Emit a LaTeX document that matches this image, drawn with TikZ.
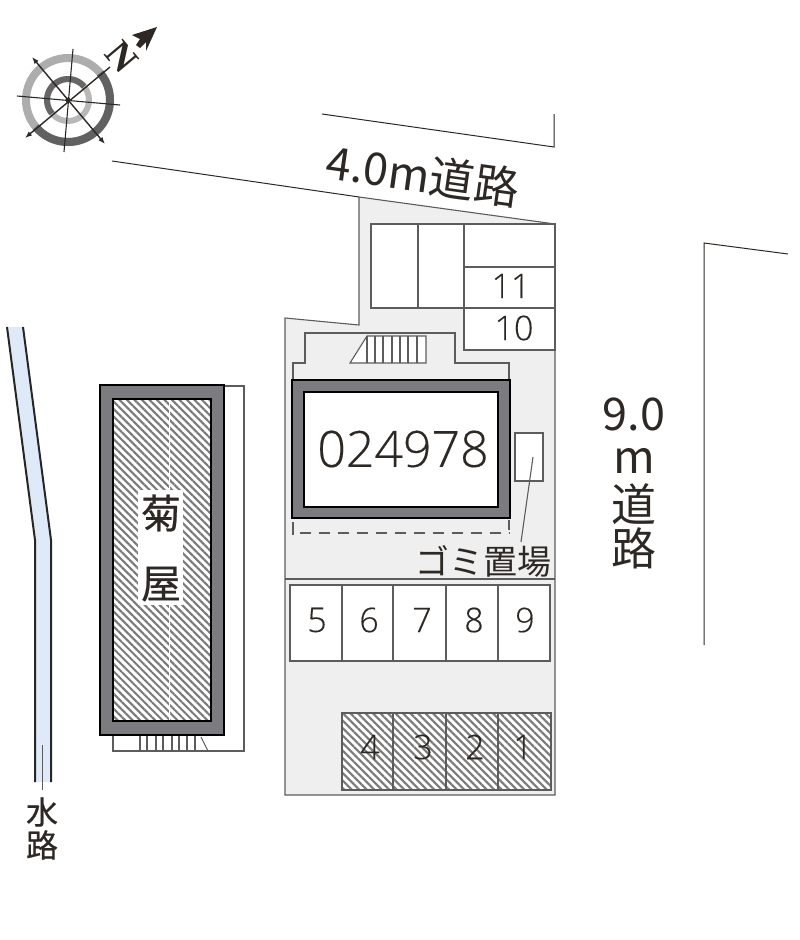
\documentclass[tikz,border=0pt]{standalone}
\usepackage{fontspec}
\setmainfont[FakeBold=0.3]{Open Sans Light}
\newfontfamily\cjk{Noto Sans CJK JP}
\newfontfamily\cjkheavy[FakeBold=0.6]{Noto Sans CJK JP}
\newfontfamily\northfont{Liberation Serif}
\usetikzlibrary{patterns.meta,arrows.meta}
\definecolor{lotgray}{HTML}{EFEFEF}
\definecolor{linegray}{HTML}{5C5C5C}
\definecolor{bandgray}{HTML}{7B7B80}
\definecolor{inkdark}{HTML}{2E2824}
\definecolor{waterblue}{HTML}{DFEAF9}
\tikzset{
    plan/.style={draw=linegray, line width=1.1pt},
    thinline/.style={draw=inkdark, line width=1pt},
    hatched/.style={pattern={Lines[angle=-45,distance=5.3pt,line width=2.1pt]}, pattern color=black!52},
    wall/.style={draw=black, fill=bandgray, line width=2.9pt},
    slotnum/.style={text=inkdark, font=\fontsize{34}{34}\selectfont, inner sep=0pt},
    roadtext/.style={text=inkdark, font=\cjk\fontsize{45}{45}\selectfont, inner sep=0pt},
    heavytext/.style={text=inkdark, inner sep=0pt}
}
\begin{document}
\begin{tikzpicture}[x=1pt, y=-1pt]
    \useasboundingbox (0,0) rectangle (800,940);
    % compass
    \coordinate (hub) at (68,100);
    \draw[line width=8pt, black!32] (hub) circle (42);
    \draw[line width=8pt, black!62] (hub) ++(140:42) arc[start angle=140, end angle=-40, radius=42];
    \draw[line width=6pt, black!28] (hub) circle (21);
    \draw[line width=6pt, black!60] (hub) ++(140:21) arc[start angle=140, end angle=320, radius=21];
    \draw[line width=1.1pt, inkdark] (17,96) -- (120,105);
    \draw[line width=1.1pt, inkdark] (73,49) -- (64,152);
    \draw[line width=1.4pt, inkdark, {Latex[length=7pt]}-{Latex[length=7pt]}] (32,57) -- (105,144);
    \draw[line width=1.4pt, inkdark, {Latex[length=7pt]}-] (25,138) -- (110,67);
    \fill[inkdark] (hub) circle (2.5);
    \node[inner sep=0pt, rotate=-50, text=inkdark, font=\northfont\bfseries\fontsize{38}{38}\selectfont] (north) at (122,57) {N};
    \fill[inkdark] (157,27) -- (132,35) -- (140,39) -- (136,45) -- (140,48) -- (146,42) -- (146,51) -- cycle;
    % roads
    \draw[thinline] (112,161) -- (359,197);
    \draw[thinline] (322,114) -- (554,147) -- (554,114);
    \draw[thinline] (788,254) -- (704,243) -- (704,645);
    \node[roadtext, rotate=-8] (road4) at (423,175) {4.0m道路};
    \node[roadtext] (road9a) at (634,414) {9.0};
    \node[roadtext] (road9b) at (634,461) {m};
    \node[roadtext] (road9c) at (634,504) {道};
    \node[roadtext] (road9d) at (634,548) {路};
    % water
    \fill[waterblue] (7,327) -- (23,327) -- (51,540) -- (51,782) -- (35,782) -- (35,540) -- cycle;
    \draw[line width=2pt, black!85] (7,327) -- (35,540) -- (35,782);
    \draw[line width=2pt, black!85] (23,327) -- (51,540) -- (51,782);
    \draw[line width=1pt, linegray] (42,745) -- (42,790);
    \node[heavytext, font=\cjkheavy\fontsize{32}{32}\selectfont] (waterA) at (42,812) {水};
    \node[heavytext, font=\cjkheavy\fontsize{32}{32}\selectfont] (waterB) at (42,845) {路};
    % neighbour
    \draw[plan, fill=white] (224,386) -- (244,386) -- (244,751) -- (113,751) -- (113,735);
    \foreach \x in {140,147,156,163,172,179,187,195}{\draw[plan] (\x,735) -- (\x,751);}
    \draw[plan] (201,737) -- (208,751);
    \draw[wall] (100,385) rectangle (224,735);
    \fill[white] (113,399) rectangle (211,721);
    \fill[hatched] (113,399) rectangle (211,721);
    \draw[black, line width=2.2pt] (113,399) rectangle (211,721);
    \draw[white, line width=0.8pt] (169,400) -- (169,720);
    \fill[white] (138,490) rectangle (183,605);
    \node[heavytext, font=\cjkheavy\fontsize{40}{40}\selectfont] (nameA) at (161,513) {菊};
    \node[heavytext, font=\cjkheavy\fontsize{40}{40}\selectfont] (nameB) at (161,584) {屋};
    % lot
    \draw[plan, fill=lotgray] (359,197) -- (555,224) -- (555,795) -- (285,795) -- (285,318) -- (359,325) -- cycle;
    \draw[plan, fill=white] (371,224) rectangle (464,308);
    \draw[plan] (418,224) -- (418,308);
    \draw[plan, fill=white] (464,224) rectangle (555,350);
    \draw[plan] (464,267) -- (555,267);
    \draw[plan] (464,308) -- (555,308);
    \node[slotnum] (n11) at (511,286) {11};
    \node[slotnum] (n10) at (514,328) {10};
    % balcony
    \draw[plan] (293,380) -- (293,363) -- (305,363) -- (305,333) -- (455,333) -- (455,363) -- (509,363) -- (509,380);
    \draw[plan, fill=white] (350,363) -- (367,336) -- (426,336) -- (426,363) -- cycle;
    \foreach \x in {367,375,383,392,400,408,417}{\draw[plan] (\x,336) -- (\x,363);}
    % building
    \draw[wall] (292,380) rectangle (510,518);
    \draw[draw=black, line width=2.2pt, fill=white] (304,392) rectangle (498,507);
    \node[inner sep=0pt, text=inkdark, font=\fontsize{50}{50}\selectfont] (bldg) at (403,449) {024978};
    \draw[draw=linegray, line width=1.7pt, dash pattern=on 11pt off 8pt] (300,533) -- (510,533);
    \draw[plan] (293,522) -- (293,535);
    \draw[plan] (509,520) -- (509,530);
    % gomi
    \node[draw=linegray, line width=1.1pt, fill=white, minimum width=28pt, minimum height=48pt, inner sep=0pt] (gomi) at (529,457) {};
    \coordinate (gomiend) at (521,542);
    \draw[plan] (gomi.center) ++(4,0) -- (gomiend);
    \node[roadtext, font=\cjk\fontsize{34}{34}\selectfont] (gomilabel) at (483,561) {ゴミ置場};
    % parking
    \draw[plan, line width=1.4pt] (285,579) -- (555,579);
    \draw[plan, fill=white] (290,585) rectangle (550,661);
    \foreach \x in {342,393,446,498}{\draw[plan] (\x,585) -- (\x,661);}
    \foreach \x/\n in {317/5,369/6,422/7,474/8,525/9}{\node[slotnum] (s\n) at (\x,620) {\n};}
    \fill[white] (342,713) rectangle (551,790);
    \fill[hatched] (342,713) rectangle (551,790);
    \draw[plan] (342,713) rectangle (551,790);
    \foreach \x in {393,446,498}{\draw[plan] (\x,713) -- (\x,790);}
    \foreach \x/\n in {370/4,423/3,475/2,523/1}{\node[slotnum] (s\n) at (\x,747) {\n};}
\end{tikzpicture}
\end{document}
